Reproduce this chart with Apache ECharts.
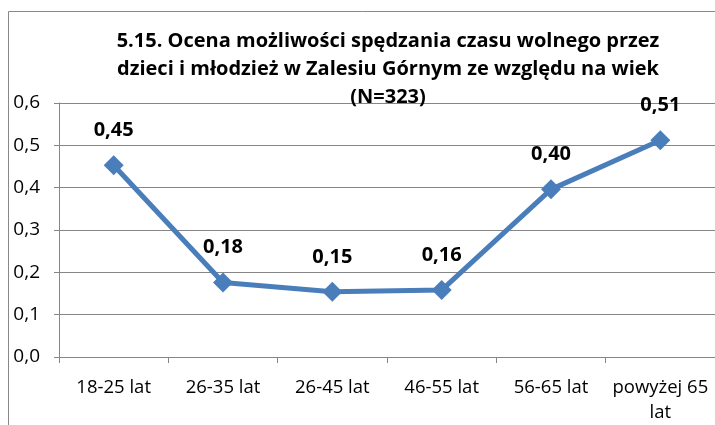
<!DOCTYPE html>
<html><head><meta charset="utf-8">
<script src="https://cdn.jsdelivr.net/npm/echarts@6/dist/echarts.min.js"></script>
<style>html,body{margin:0;padding:0;background:#fff}#c{width:715px;height:425px}</style>
</head><body><div id="c"></div>
<script>
const titleText = "5.15. Ocena możliwości spędzania czasu wolnego przez\ndzieci i młodzież w Zalesiu Górnym ze względu na wiek\n(N=323)";
const categories = ["18-25 lat", "26-35 lat", "26-45 lat", "46-55 lat", "56-65 lat", "powyżej 65\nlat"];
const values = [0.453, 0.176, 0.154, 0.158, 0.396, 0.512];
const yTicks = {min: 0, max: 0.6, interval: 0.1};

const FONT = "'Open Sans'";
const chart = echarts.init(document.getElementById('c'));
chart.setOption({
  animation: false,
  backgroundColor: '#fff',
  title: {
    text: titleText,
    left: 383, top: 22, textAlign: 'center',
    textStyle: {fontFamily: FONT, fontWeight: 'bold', fontSize: 20, lineHeight: 28, color: '#000'}
  },
  graphic: [{
    type: 'rect', shape: {x: 8.5, y: 11.5, width: 720, height: 430},
    style: {fill: 'none', stroke: '#888', lineWidth: 1}, z: -1
  }],
  grid: {left: 59, right: 0, top: 103, bottom: 68, containLabel: false},
  xAxis: {
    type: 'category', data: categories, boundaryGap: true,
    axisLine: {lineStyle: {color: '#868686', width: 1}},
    axisTick: {show: true, length: 6, lineStyle: {color: '#868686'}},
    axisLabel: {fontFamily: FONT, fontSize: 18.5, color: '#000', margin: 18, lineHeight: 25, interval: 0}
  },
  yAxis: {
    type: 'value', min: yTicks.min, max: yTicks.max, interval: yTicks.interval,
    axisLine: {show: true, lineStyle: {color: '#868686', width: 1}},
    axisTick: {show: true, length: 5, lineStyle: {color: '#868686'}},
    splitLine: {lineStyle: {color: '#868686', width: 1}},
    axisLabel: {fontFamily: FONT, fontSize: 19, color: '#000', margin: 19,
      formatter: v => v.toFixed(1).replace('.', ',')}
  },
  series: [{
    type: 'line', data: values,
    symbol: 'diamond', symbolSize: 20,
    lineStyle: {color: '#4a7ebb', width: 5},
    itemStyle: {color: '#4a7ebb'},
    label: {show: true, position: 'top', distance: 15,
      fontFamily: FONT, fontWeight: 'bold', fontSize: 20, color: '#000',
      formatter: p => p.value.toFixed(2).replace('.', ',')}
  }]
});
</script></body></html>
